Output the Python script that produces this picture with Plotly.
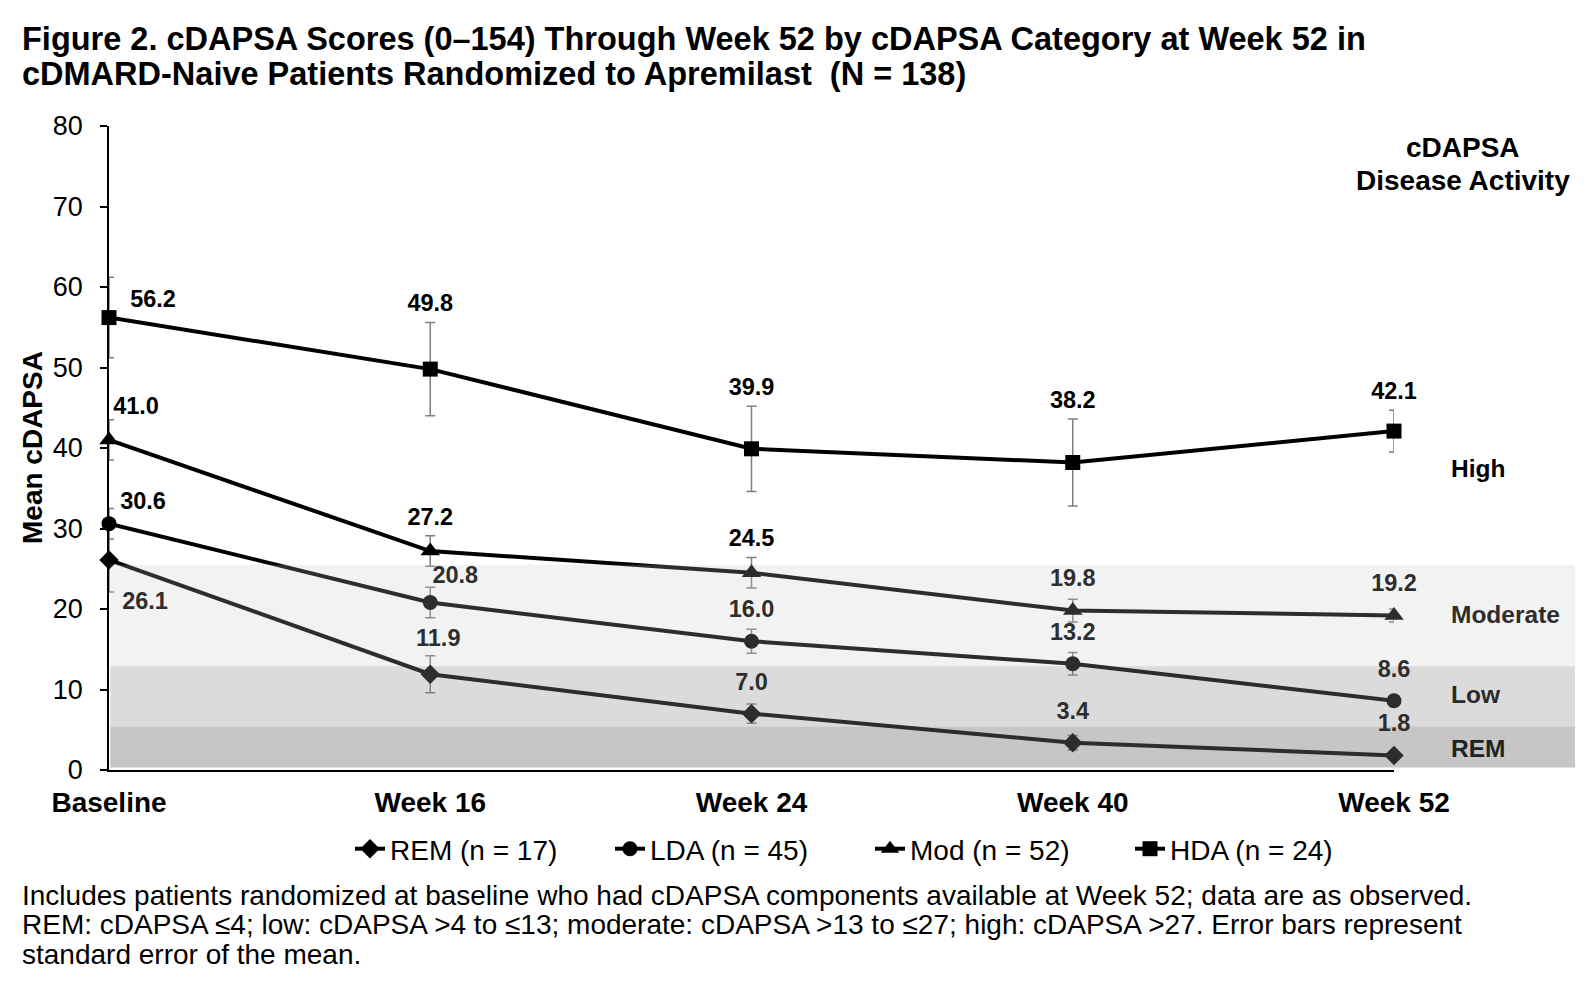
import plotly.graph_objects as go

# ---------------- data ----------------
timepoints = ["Baseline", "Week 16", "Week 24", "Week 40", "Week 52"]
series_names = ["REM (n = 17)", "LDA (n = 45)", "Mod (n = 52)", "HDA (n = 24)"]
rem_mean = [26.1, 11.9, 7.0, 3.4, 1.8]
lda_mean = [30.6, 20.8, 16.0, 13.2, 8.6]
mod_mean = [41.0, 27.2, 24.5, 19.8, 19.2]
hda_mean = [56.2, 49.8, 39.9, 38.2, 42.1]
rem_se = [4.0, 2.3, 1.2, 0.9, 0.4]
lda_se = [1.9, 1.9, 1.5, 1.4, 0.7]
mod_se = [2.5, 1.9, 1.9, 1.4, 0.8]
hda_se = [5.0, 5.8, 5.3, 5.4, 2.6]
band_names = ["REM", "Low", "Moderate", "High"]
band_edges = [0.3, 5.4, 12.9, 25.5]
y_ticks = [0, 10, 20, 30, 40, 50, 60, 70, 80]

# ---------------- layout constants ----------------
W, H = 1594, 990
ML, MR, MT, MB = 101, 208, 118, 228
PW, PH = W - ML - MR, H - MT - MB
Y_MAX = 80
PX_Y = PH / Y_MAX
PX_X = PW / (len(timepoints) - 1)
FONT = "Liberation Sans, Arial, sans-serif"


def paper_x(px):
    return (px - ML) / PW


def paper_y(px):
    return (H - MB - px) / PH


series = [
    (series_names[0], rem_mean, rem_se, "diamond", 15),
    (series_names[1], lda_mean, lda_se, "circle", 15),
    (series_names[2], mod_mean, mod_se, "triangle-up", 17),
    (series_names[3], hda_mean, hda_se, "square", 15),
]

# label offsets (px): default = above error bar cap
label_override = {
    (0, 0): (36, -43),
    (0, 1): (8, 34),
    (1, 0): (34, 21),
    (1, 1): (25, 25),
    (2, 0): (27, 32),
    (3, 0): (44, 16),
}

xs = list(range(len(timepoints)))
fig = go.Figure()

for k, (name, mean, se, sym, msize) in enumerate(series):
    fig.add_trace(go.Scatter(
        x=xs, y=mean, name=name, mode="lines+markers",
        line=dict(color="black", width=4),
        marker=dict(symbol=sym, size=msize, color="black"),
        error_y=dict(type="data", array=se, visible=True, color="#7f7f7f",
                     thickness=1.5, width=5),
        cliponaxis=False, hoverinfo="skip",
    ))

for k, (name, mean, se, sym, msize) in enumerate(series):
    lx, ly = [], []
    for i, v in enumerate(mean):
        dx, dy = 0, max(se[i] * PX_Y + 17, 30)
        if (k, i) in label_override:
            dx, dy = label_override[(k, i)]
        lx.append(i + dx / PX_X)
        ly.append(v + dy / PX_Y)
    fig.add_trace(go.Scatter(
        x=lx, y=ly, mode="text", text=[f"{v:.1f}" for v in mean],
        textposition="middle center",
        textfont=dict(family=FONT, size=23.5, color="black", weight="bold"),
        showlegend=False, cliponaxis=False, hoverinfo="skip",
    ))

# translucent bands drawn over the data
band_style = [
    ("rgb(112,112,112)", 0.40),
    ("rgb(141,141,141)", 0.318),
    ("rgb(198,198,198)", 0.2275),
]
band_x1 = paper_x(1567)
for j in range(3):
    c, op = band_style[j]
    fig.add_shape(type="rect", xref="paper", yref="y",
                  x0=0.001, x1=band_x1, y0=band_edges[j],
                  y1=band_edges[j + 1], fillcolor=c, opacity=op,
                  line=dict(width=0), layer="above")

annotations = []
# band labels
band_label_y = [2.65, 9.35, 19.3, 37.5]
band_label_col = ["#222222", "#2a2a2a", "#2d2d2d", "black"]
for j, nm in enumerate(band_names):
    annotations.append(dict(
        xref="paper", yref="y", x=paper_x(1441), y=band_label_y[j],
        xanchor="left", yanchor="middle", showarrow=False,
        text=f"<b>{nm}</b>",
        font=dict(family=FONT, size=24.5, color=band_label_col[j])))

for txt, cy in zip(["cDAPSA", "Disease Activity"], [139.5, 173]):
    annotations.append(dict(
        xref="paper", yref="paper", x=paper_x(1455), y=paper_y(cy),
        xanchor="center", yanchor="middle", showarrow=False,
        text=f"<b>{txt}</b>",
        font=dict(family=FONT, size=28, color="black")))

annotations.append(dict(
    xref="paper", yref="paper", x=paper_x(24), y=paper_y(440),
    xanchor="center", yanchor="middle", showarrow=False, textangle=-90,
    text="<b>Mean cDAPSA</b>",
    font=dict(family=FONT, size=28, color="black")))

title_lines = [
    "Figure 2. cDAPSA Scores (0\u2013154) Through Week 52 by cDAPSA Category at Week 52 in",
    "cDMARD-Naive Patients Randomized to Apremilast \u00a0(N = 138)",
]
for txt, cy in zip(title_lines, [30.7, 66.3]):
    annotations.append(dict(
        xref="paper", yref="paper", x=paper_x(12), y=paper_y(cy),
        xanchor="left", yanchor="middle", showarrow=False,
        text=f"<b>{txt}</b>", font=dict(family=FONT, size=32.5, color="black")))

foot_lines = [
    "Includes patients randomized at baseline who had cDAPSA components available at Week 52; data are as observed.",
    "REM: cDAPSA \u22644; low: cDAPSA >4 to \u226413; moderate: cDAPSA >13 to \u226427; high: cDAPSA >27. Error bars represent",
    "standard error of the mean.",
]
for txt, cy in zip(foot_lines, [887, 916.7, 946.2]):
    annotations.append(dict(
        xref="paper", yref="paper", x=paper_x(12), y=paper_y(cy),
        xanchor="left", yanchor="middle", showarrow=False,
        text=txt, font=dict(family=FONT, size=28, color="black")))

fig.update_layout(
    width=W, height=H,
    margin=dict(l=ML, r=MR, t=MT, b=MB, autoexpand=False),
    paper_bgcolor="white", plot_bgcolor="white",
    font=dict(family=FONT, color="black"),
    showlegend=True,
    legend=dict(orientation="h", x=paper_x(862), xanchor="center",
                y=paper_y(841), yanchor="middle", entrywidth=215,
                font=dict(family=FONT, size=28, color="black"),
                bgcolor="rgba(0,0,0,0)", traceorder="normal"),
    annotations=annotations,
    xaxis=dict(range=[0, len(timepoints) - 1], tickmode="array",
               tickvals=xs, ticktext=timepoints, showgrid=False,
               zeroline=False, showline=True, linecolor="black", linewidth=1.5,
               ticks="", ticklabelstandoff=7,
               tickfont=dict(family=FONT, size=28, color="black", weight="bold")),
    yaxis=dict(range=[0, Y_MAX], tickmode="array", tickvals=y_ticks,
               showgrid=False, zeroline=False, showline=True,
               linecolor="black", linewidth=1.5, ticks="outside", ticklen=7,
               tickcolor="black", tickwidth=1.5, ticklabelstandoff=12,
               tickfont=dict(family=FONT, size=27, color="black")),
)

fig.write_html("out.html")
